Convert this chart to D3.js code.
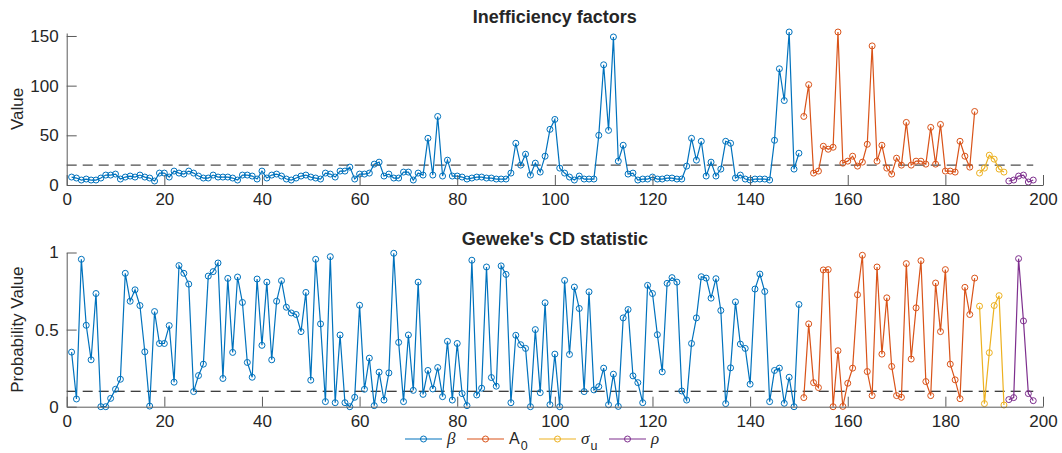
<!DOCTYPE html>
<html>
<head>
<meta charset="utf-8">
<script src="https://cdn.jsdelivr.net/npm/d3@7"></script>
<style>
  body { margin: 0; background: #fff; }
  svg { display: block; }
  text { font-family: "Liberation Sans", Arial, Helvetica, sans-serif; fill: #262626; }
</style>
</head>
<body>
<svg id="chart" width="1062" height="453"></svg>
<script>
// Inefficiency factors per parameter block
const betaIF = [
  8, 7, 5, 6, 5, 5, 7, 10, 10, 11,
  6, 8, 9, 8, 10, 8, 7, 4, 12, 12,
  8, 14, 12, 11, 14, 12, 9, 7, 7, 10,
  8, 8, 8, 7, 5, 10, 10, 9, 6, 14,
  7, 10, 11, 9, 6, 5, 7, 9, 10, 8,
  7, 6, 12, 11, 8, 14, 14, 18, 6, 11,
  11, 12, 21, 23, 9, 11, 7, 7, 13, 13,
  5, 12, 10, 47, 10, 69, 9, 25, 9, 9,
  8, 6, 7, 8, 8, 7, 7, 6, 6, 6,
  12, 42, 20, 31, 10, 22, 13, 29, 56, 66,
  17, 12, 8, 5, 9, 6, 6, 6, 50, 121,
  55, 149, 24, 40, 11, 12, 5, 6, 6, 8,
  6, 6, 7, 7, 6, 6, 19, 47, 25, 44,
  9, 23, 9, 16, 44, 42, 7, 10, 6, 5,
  6, 6, 6, 5, 45, 117, 85, 154, 16, 32
];
const a0IF = [
  69, 101, 12, 14, 39, 36, 38, 154, 22, 24,
  29, 19, 23, 41, 140, 24, 40, 17, 11, 27,
  20, 63, 20, 24, 24, 21, 58, 21, 61, 14,
  14, 13, 44, 29, 18, 74
];
const sigmaIF = [12, 17, 30, 26, 16, 13];
const rhoIF = [4, 5, 9, 10, 3, 5];

// Geweke convergence diagnostic p-values
const betaCD = [
  0.354, 0.05, 0.956, 0.528, 0.304, 0.734, 0.0, 0.0, 0.054, 0.113,
  0.178, 0.865, 0.684, 0.758, 0.656, 0.356, 0.004, 0.617, 0.41, 0.41,
  0.526, 0.159, 0.915, 0.865, 0.795, 0.098, 0.202, 0.276, 0.847, 0.876,
  0.932, 0.183, 0.832, 0.352, 0.841, 0.676, 0.287, 0.191, 0.828, 0.398,
  0.808, 0.304, 0.684, 0.817, 0.645, 0.608, 0.598, 0.487, 0.741, 0.172,
  0.956, 0.537, 0.033, 0.973, 0.026, 0.465, 0.026, 0.0, 0.061, 0.658,
  0.113, 0.315, 0.007, 0.224, 0.043, 0.219, 0.995, 0.417, 0.033, 0.465,
  0.106, 0.808, 0.08, 0.235, 0.115, 0.254, 0.065, 0.424, 0.043, 0.41,
  0.085, 0.007, 0.95, 0.076, 0.12, 0.906, 0.189, 0.133, 0.913, 0.858,
  0.026, 0.463, 0.402, 0.378, 0.0, 0.5, 0.091, 0.674, 0.013, 0.341,
  0.0, 0.819, 0.339, 0.776, 0.637, 0.098, 0.745, 0.109, 0.13, 0.25,
  0.013, 0.211, 0.002, 0.576, 0.63, 0.2, 0.156, 0.026, 0.787, 0.734,
  0.467, 0.226, 0.8, 0.837, 0.808, 0.102, 0.043, 0.41, 0.576, 0.843,
  0.834, 0.704, 0.83, 0.624, 0.02, 0.252, 0.68, 0.406, 0.378, 0.146,
  0.763, 0.86, 0.747, 0.033, 0.235, 0.25, 0.022, 0.191, 0.0, 0.663
];
const a0CD = [
  0.059, 0.537, 0.156, 0.124, 0.887, 0.889, 0.0, 0.363, 0.002, 0.152,
  0.25, 0.726, 0.982, 0.228, 0.072, 0.906, 0.341, 0.706, 0.261, 0.072,
  0.061, 0.928, 0.309, 0.641, 0.947, 0.163, 0.072, 0.802, 0.487, 0.889,
  0.276, 0.174, 0.052, 0.774, 0.598, 0.834
];
const sigmaCD = [0.652, 0.02, 0.35, 0.656, 0.72, 0.011];
const rhoCD = [0.046, 0.059, 0.96, 0.556, 0.085, 0.039];

const seriesColors = ["#0072BD", "#D95319", "#EDB120", "#7E2F8E"];
const xTicks = [0, 20, 40, 60, 80, 100, 120, 140, 160, 180, 200];
const ifTicks = [0, 50, 100, 150];
const cdTicks = [0, 0.5, 1];
const ifThreshold = 20;
const cdThreshold = 0.1;

// Parameters are numbered consecutively across the blocks
const blocks = [];
{
  const ifs = [betaIF, a0IF, sigmaIF, rhoIF];
  const cds = [betaCD, a0CD, sigmaCD, rhoCD];
  let start = 1;
  ifs.forEach((arr, k) => {
    blocks.push({
      color: seriesColors[k],
      ifv: arr.map((v, j) => [start + j, v]),
      cd: cds[k].map((v, j) => [start + j, v])
    });
    start += arr.length;
  });
}
const nParams = blocks.reduce((s, b) => s + b.ifv.length, 0);

const svg = d3.select("#chart");
const x = d3.scaleLinear().domain([0, 200]).range([66.7, 1043]);

function panel(opts) {
  const { y, ticks, tickFmt, title, titleY, ylabel, key, threshold, thrColor } = opts;
  const g = svg.append("g");
  const [y0, y1] = y.range();

  // threshold line
  g.append("line")
    .attr("x1", x(0)).attr("x2", x(nParams))
    .attr("y1", y(threshold)).attr("y2", y(threshold))
    .attr("stroke", thrColor).attr("stroke-width", 1.1)
    .attr("stroke-dasharray", "10,6");

  // series
  const line = d3.line().x(d => x(d[0])).y(d => y(d[1]));
  blocks.forEach(b => {
    const data = b[key];
    g.append("path").datum(data)
      .attr("d", line).attr("fill", "none")
      .attr("stroke", b.color).attr("stroke-width", 1.2);
    g.selectAll(null).data(data).enter().append("circle")
      .attr("cx", d => x(d[0])).attr("cy", d => y(d[1])).attr("r", 3)
      .attr("fill", "none").attr("stroke", b.color).attr("stroke-width", 1);
  });

  // axes
  const xa = g.append("g").attr("transform", `translate(0,${y0})`)
    .call(d3.axisBottom(x).tickValues(xTicks).tickSizeInner(-10).tickSizeOuter(0).tickPadding(8));
  const ya = g.append("g").attr("transform", `translate(${x(0)},0)`)
    .call(d3.axisLeft(y).tickValues(ticks).tickFormat(tickFmt).tickSizeInner(-10).tickSizeOuter(0).tickPadding(8));
  [xa, ya].forEach(a => {
    a.select(".domain").attr("stroke", "#5a5a5a").attr("stroke-width", 1);
    a.selectAll(".tick line").attr("stroke", "#5a5a5a");
    a.selectAll(".tick text").attr("font-size", 17).attr("fill", "#262626")
      .attr("font-family", "'Liberation Sans', Arial, sans-serif");
  });

  g.append("text").attr("x", (x(0) + x(200)) / 2).attr("y", titleY)
    .attr("text-anchor", "middle").attr("font-weight", "bold").attr("font-size", 18)
    .text(title);
  g.append("text")
    .attr("transform", `translate(23,${(y0 + y1) / 2}) rotate(-90)`)
    .attr("text-anchor", "middle").attr("font-size", 17)
    .text(ylabel);
}

panel({
  y: d3.scaleLinear().domain([0, 153]).range([185, 33]),
  ticks: ifTicks, tickFmt: d3.format("d"),
  title: "Inefficiency factors", titleY: 23, ylabel: "Value",
  key: "ifv", threshold: ifThreshold, thrColor: "#4d4d4d"
});
panel({
  y: d3.scaleLinear().domain([0, 1]).range([406.7, 252.5]),
  ticks: cdTicks, tickFmt: d => (d === 0.5 ? "0.5" : d3.format("d")(d)),
  title: "Geweke's CD statistic", titleY: 245, ylabel: "Probability Value",
  key: "cd", threshold: cdThreshold, thrColor: "#000"
});

// legend
const legendItems = [
  { main: "β", sub: null, italic: true },
  { main: "A", sub: "0", italic: false },
  { main: "σ", sub: "u", italic: true },
  { main: "ρ", sub: null, italic: true }
];
const legendX = [405, 467, 539, 609];
const ly = 439;
const lg = svg.append("g");
legendItems.forEach((it, k) => {
  const lx = legendX[k];
  lg.append("line").attr("x1", lx).attr("x2", lx + 37).attr("y1", ly).attr("y2", ly)
    .attr("stroke", seriesColors[k]).attr("stroke-width", 1.2);
  lg.append("circle").attr("cx", lx + 18.5).attr("cy", ly).attr("r", 3)
    .attr("fill", "none").attr("stroke", seriesColors[k]).attr("stroke-width", 1);
  const t = lg.append("text").attr("x", lx + 42).attr("y", ly + 5).attr("font-size", 16);
  t.append("tspan")
    .attr("font-style", it.italic ? "italic" : "normal")
    .attr("font-family", it.italic ? "'Liberation Serif', 'DejaVu Serif', serif" : null)
    .attr("font-size", it.italic ? 17 : 16)
    .text(it.main);
  if (it.sub) {
    t.append("tspan").attr("dy", 6).attr("dx", 1).attr("font-size", 12.5).text(it.sub);
  }
});
</script>
</body>
</html>
